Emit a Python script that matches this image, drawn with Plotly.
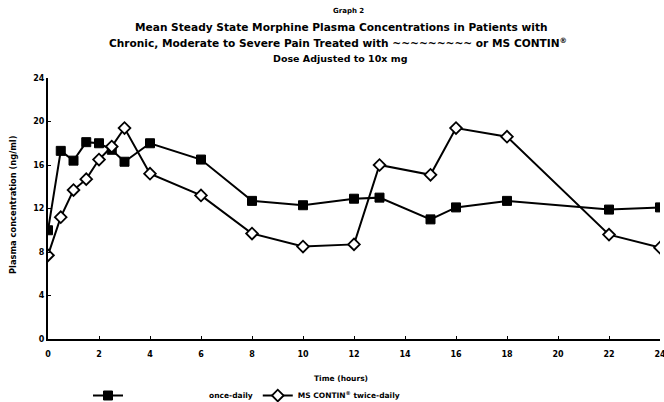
import plotly.graph_objects as go

# Sampling times (hours) and mean plasma morphine concentrations (ng/ml)
once_daily_t = [0, 0.5, 1, 1.5, 2, 2.5, 3, 4, 6, 8, 10, 12, 13, 15, 16, 18, 22, 24]
once_daily_c = [10.0, 17.3, 16.4, 18.1, 18.0, 17.4, 16.3, 18.0, 16.5, 12.7, 12.3, 12.9, 13.0, 11.0, 12.1, 12.7, 11.9, 12.1]

contin_t = [0, 0.5, 1, 1.5, 2, 2.5, 3, 4, 6, 8, 10, 12, 13, 15, 16, 18, 22, 24]
contin_c = [7.7, 11.2, 13.7, 14.7, 16.5, 17.7, 19.4, 15.2, 13.2, 9.7, 8.5, 8.7, 16.0, 15.1, 19.4, 18.6, 9.6, 8.4]

x_ticks = list(range(0, 25, 2))
y_ticks = list(range(0, 25, 4))

FONT = "DejaVu Sans, Liberation Sans, Arial, sans-serif"
NB = "\u00a0"

fig = go.Figure()
fig.add_trace(go.Scatter(
    x=once_daily_t, y=once_daily_c, mode="lines+markers",
    name=NB * 34 + "<b>once-daily</b>",
    line=dict(color="black", width=2),
    marker=dict(symbol="square", size=9, color="black", line=dict(color="black", width=1)),
))
fig.add_trace(go.Scatter(
    x=contin_t, y=contin_c, mode="lines+markers",
    name="<b>MS CONTIN<sup>®</sup> twice-daily</b>",
    line=dict(color="black", width=2),
    marker=dict(symbol="diamond", size=9, color="white", line=dict(color="black", width=1.8)),
))


def px_to_paper(px, py):
    return (px - 48) / 612, (339 - py) / 261


# (pixel x centre, pixel y, text, size, angle)
text_items = [
    (348, 11, "<b>Graph 2</b>", 7, 0),
    (341, 27, "<b>Mean Steady State Morphine Plasma Concentrations in Patients with</b>", 10.6, 0),
    (338, 43, "<b>Chronic, Moderate to Severe Pain Treated with ~~~~~~~~~ or MS CONTIN<sup>®</sup></b>", 10.6, 0),
    (340, 58, "<b>Dose Adjusted to 10x mg</b>", 9.5, 0),
    (341, 378, "<b>Time (hours)</b>", 7.5, 0),
    (13, 205, "<b>Plasma concentration (ng/ml)</b>", 8.3, -90),
]
annotations = []
for px, py, txt, fs, ang in text_items:
    ax, ay = px_to_paper(px, py)
    annotations.append(dict(
        x=ax, y=ay, xref="paper", yref="paper",
        text=txt, showarrow=False, xanchor="center", yanchor="middle",
        textangle=ang,
        font=dict(family=FONT, size=fs, color="black"),
    ))

leg_x, leg_y = px_to_paper(88, 381)

fig.update_layout(
    width=664, height=402,
    margin=dict(l=48, r=4, t=78, b=63, autoexpand=False),
    paper_bgcolor="white", plot_bgcolor="white",
    font=dict(family=FONT, color="black", size=8),
    annotations=annotations,
    showlegend=True,
    legend=dict(
        orientation="h", x=leg_x, y=leg_y,
        xanchor="left", yanchor="top",
        font=dict(family=FONT, size=7.5, color="black"),
        bgcolor="rgba(0,0,0,0)", itemwidth=30, tracegroupgap=0,
    ),
    xaxis=dict(
        range=[0, 24], tickvals=x_ticks,
        ticktext=[f"<b>{v}</b>" for v in x_ticks],
        showgrid=False, zeroline=False, automargin=False,
        showline=True, linecolor="black", linewidth=2,
        ticks="inside", ticklen=3, tickcolor="black", tickwidth=1,
        tickfont=dict(family=FONT, size=8),
        ticklabeloverflow="allow", ticklabelstandoff=6,
    ),
    yaxis=dict(
        range=[0, 24], tickvals=y_ticks,
        ticktext=[f"<b>{v}</b>" for v in y_ticks],
        showgrid=False, zeroline=False, automargin=False,
        showline=True, linecolor="black", linewidth=2,
        ticks="inside", ticklen=3, tickcolor="black", tickwidth=1,
        tickfont=dict(family=FONT, size=8),
    ),
)

fig.write_html("out.html")
